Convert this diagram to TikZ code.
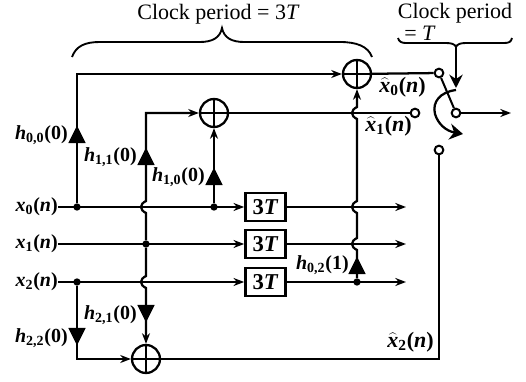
\documentclass[tikz,border=0pt]{standalone}
\usepackage{fontspec}
\setmainfont{Liberation Serif}
\usetikzlibrary{arrows.meta,shapes.geometric}
\newcommand{\hlab}[2]{\textbf{\textit{h}\textsubscript{#1}(#2)}}
\newcommand{\xlab}[1]{\textbf{\textit{x}\textsubscript{#1}(\textit{n})}}
\newcommand{\xhat}[1]{\textbf{$\widehat{\mbox{\textbf{\textit{x}}}}$\textsubscript{#1}(\textit{n})}}
\newcommand{\hopdown}[1]{-- ([yshift=4.5pt]#1) .. controls ([xshift=-5pt,yshift=2pt]#1) and ([xshift=-5pt,yshift=-2pt]#1) .. ([yshift=-4.5pt]#1)}
\newcommand{\hopup}[1]{-- ([yshift=-4.5pt]#1) .. controls ([xshift=-5pt,yshift=-2pt]#1) and ([xshift=-5pt,yshift=2pt]#1) .. ([yshift=4.5pt]#1)}
\tikzset{
  sig/.style={line width=1.7pt},
  sigarrow/.style={sig,-{Stealth[length=8pt,width=6pt]}},
  adder/.style={circle,draw,line width=1.7pt,minimum size=21pt,inner sep=0pt,
    path picture={\draw[line width=1.4pt] (path picture bounding box.north) -- (path picture bounding box.south)
      (path picture bounding box.west) -- (path picture bounding box.east);}},
  dot/.style={circle,fill=black,inner sep=0pt,minimum size=5.5pt},
  term/.style={circle,draw,fill=white,line width=1.5pt,inner sep=0pt,minimum size=6.5pt},
  delay/.style={draw,line width=2pt,inner sep=0pt,minimum width=30pt,minimum height=21pt,font=\fontsize{17}{18}\selectfont\bfseries},
  tap/.style={isosceles triangle,isosceles triangle stretches,fill=black,inner sep=0pt,minimum width=13pt,minimum height=13pt},
  tapup/.style={tap,shape border rotate=90,anchor=apex},
  tapdown/.style={tap,shape border rotate=-90,anchor=apex},
  lab/.style={inner sep=0pt,font=\fontsize{15}{17}\selectfont},
  hatlab/.style={inner sep=0pt,font=\fontsize{16.5}{18}\selectfont},
  clock/.style={inner sep=0pt,font=\fontsize{16.5}{18}\selectfont},
}
\begin{document}
\begin{tikzpicture}[x=0.75pt,y=-0.75pt]
  \useasboundingbox (0,0) rectangle (526,382);
  % adders and delays
  \node[adder] (S0) at (357,74) {};
  \node[adder] (S1) at (214,113) {};
  \node[adder] (S2) at (146,359) {};
  \node[delay] (D0) at (265.5,207) {3\textit{T}};
  \node[delay] (D1) at (265.5,244) {3\textit{T}};
  \node[delay] (D2) at (265.5,282) {3\textit{T}};
  % inputs
  \node[lab,anchor=east] (X0) at (58,207) {\xlab{0}};
  \node[lab,anchor=east] (X1) at (58,244) {\xlab{1}};
  \node[lab,anchor=east] (X2) at (58,282) {\xlab{2}};
  % branch points
  \node[dot] (P00) at (77,207) {};
  \node[dot] (P10) at (214,207) {};
  \node[dot] (P11) at (146,244) {};
  \node[dot] (P22) at (77,282) {};
  \node[dot] (P02) at (357,282) {};
  % crossings
  \coordinate (C1) at (146,207);
  \coordinate (C2) at (146,282);
  \coordinate (C3) at (357,113);
  \coordinate (C4) at (357,207);
  \coordinate (C5) at (357,244);
  \coordinate (K0) at (77,74);
  \coordinate (K1) at (146,113);
  \coordinate (K2) at (77,359);
  % switch
  \node[term] (T0) at (439,73) {};
  \node[term] (T1) at (415,113) {};
  \node[term] (T2) at (439,150) {};
  \node[term] (TO) at (456,113) {};
  \coordinate (E0) at (406,207);
  \coordinate (E1) at (406,244);
  \coordinate (E2) at (406,282);
  \coordinate (EO) at (511,113);
  \coordinate (K3) at (439,359);
  % signal lines
  \begin{scope}[every path/.style={sig}]
    \draw[sigarrow] (X0) -- (D0);
    \draw[sigarrow] (X1) -- (D1);
    \draw[sigarrow] (X2) -- (D2);
    \draw[sigarrow] (D0) -- (E0);
    \draw[sigarrow] (D1) -- (E1);
    \draw[sigarrow] (D2) -- (E2);
    \draw[sigarrow] (P00) -- (K0) -- (S0);
    \draw[sigarrow] (P11) \hopup{C1} -- (K1) -- (S1);
    \draw[sigarrow] (P10) -- (S1);
    \draw[sigarrow] (P11) \hopdown{C2} -- (S2);
    \draw[sigarrow] (P22) -- (K2) -- (S2);
    \draw[sigarrow] (P02) \hopup{C5} \hopup{C4} \hopup{C3} -- (S0);
    \draw (S0) -- (T0);
    \draw (S1) -- (T1);
    \draw (S2) -- (K3) -- (T2);
    \draw[sigarrow] (TO) -- (EO);
    \draw[line width=1.5pt] (T0) -- (TO);
  \end{scope}
  % multipliers
  \node[tapup] (G00) at (77,125) {};
  \node[tapup] (G11) at (146,147) {};
  \node[tapup] (G10) at (214,167) {};
  \node[tapup] (G02) at (357,256) {};
  \node[tapdown] (G21) at (146,323) {};
  \node[tapdown] (G22) at (77,346) {};
  \node[lab,anchor=east] (L00) at (68,135) {\hlab{0,0}{0}};
  \node[lab,anchor=east] (L11) at (137,157) {\hlab{1,1}{0}};
  \node[lab,anchor=east] (L10) at (205,177) {\hlab{1,0}{0}};
  \node[lab,anchor=east] (L02) at (349,265) {\hlab{0,2}{1}};
  \node[lab,anchor=east] (L21) at (137,315) {\hlab{2,1}{0}};
  \node[lab,anchor=east] (L22) at (68,338) {\hlab{2,2}{0}};
  \node[hatlab,anchor=east] (H0) at (426,87) {\xhat{0}};
  \node[hatlab,anchor=east] (H1) at (412,126) {\xhat{1}};
  \node[hatlab,anchor=east] (H2) at (434,342) {\xhat{2}};
  % clock braces
  \node[clock] (CA) at (218.5,14) {Clock period = 3\textit{T}};
  \node[clock] (CB) at (455,13) {Clock period};
  \node[clock] (CC) at (420,33) {= \textit{T}};
  \draw[line width=1.4pt] (72,57) .. controls (76,46) and (85,42) .. (100,42) -- (200,42)
    .. controls (212,42) and (220,38) .. (222,28) .. controls (224,38) and (232,42) .. (244,42)
    -- (340,42) .. controls (356,42) and (368,46) .. (372,57);
  \draw[line width=1.4pt] (398,38) .. controls (399,42) and (402,43) .. (406,43) -- (446,43)
    .. controls (451,43) and (455,44) .. (456,47) .. controls (457,44) and (461,43) .. (466,43)
    -- (504,43) .. controls (509,43) and (511,42) .. (512,38);
  \coordinate (B0) at (456,46);
  \coordinate (B1) at (456,88);
  \draw[sig,-{Stealth[length=10pt,width=10pt]}] (B0) -- (B1);
  % commutator
  \coordinate (R0) at (456,90);
  \coordinate (R1) at (463,134);
  \draw[line width=1.7pt,-{Stealth[length=10pt,width=12pt]}] (R0) .. controls (440,92) and (432,102) .. (435,114)
    .. controls (438,124) and (446,131) .. (R1);
\end{tikzpicture}
\end{document}
